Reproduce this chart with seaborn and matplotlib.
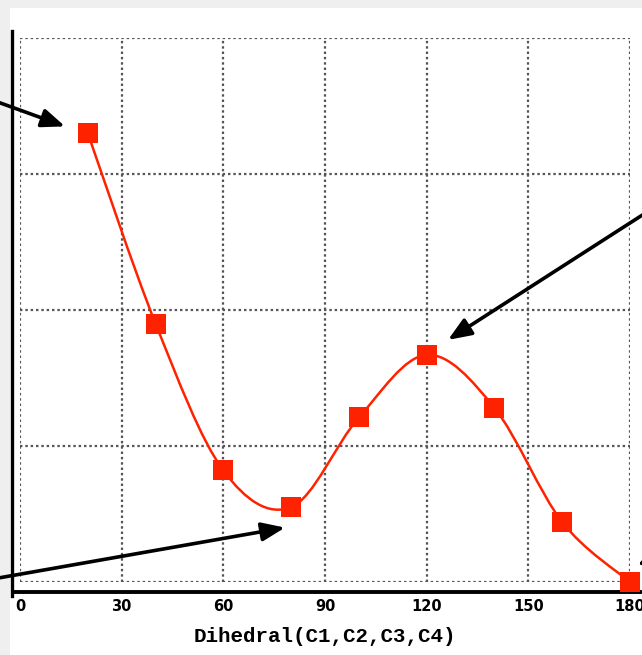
import numpy as np
import matplotlib
matplotlib.use("Agg")
import matplotlib.pyplot as plt
from matplotlib.path import Path
from matplotlib.patches import PathPatch, Rectangle
import seaborn as sns

# Scan data
dihedral = [20, 40, 60, 80, 100, 120, 140, 160, 180]
energy = [3.30, 1.90, 0.82, 0.55, 1.21, 1.67, 1.28, 0.44, 0.0]
x_ticks = [0, 30, 60, 90, 120, 150, 180]
y_grid = [0, 1, 2, 3, 4]
x_label = "Dihedral(C1,C2,C3,C4)"

RED = "#ff2200"

sns.set_style("white")

fig = plt.figure(figsize=(6.42, 6.55), dpi=100, facecolor="#efefef")
# white panel (image is a crop of a larger page)
fig.patches.append(Rectangle((10 / 642, 0), 1, (655 - 8) / 655,
                             transform=fig.transFigure, facecolor="white",
                             edgecolor="none", zorder=-10))

ax = fig.add_axes([20 / 642, (655 - 582) / 655, 610 / 642, 544 / 655])
ax.set_facecolor("none")

# smooth curve through the points (Catmull-Rom drawn as bezier path)
pts = np.column_stack([dihedral, energy])
verts = [tuple(pts[0])]
codes = [Path.MOVETO]
n = len(pts)
for i in range(n - 1):
    p0 = pts[max(i - 1, 0)]
    p1 = pts[i]
    p2 = pts[i + 1]
    p3 = pts[min(i + 2, n - 1)]
    c1 = p1 + (p2 - p0) / 6
    c2 = p2 - (p3 - p1) / 6
    verts += [tuple(c1), tuple(c2), tuple(p2)]
    codes += [Path.CURVE4] * 3
ax.add_patch(PathPatch(Path(verts, codes), facecolor="none", edgecolor=RED,
                       lw=1.8, zorder=4, clip_on=False))

sns.scatterplot(x=dihedral, y=energy, marker="s", s=14.5 ** 2, color=RED,
                edgecolor=RED, linewidth=0, zorder=5, clip_on=False, ax=ax)

ax.set_xlim(0, 180)
ax.set_ylim(0, 4)
ax.set_xticks(x_ticks)
ax.set_yticks(y_grid)
ax.grid(True, color="#555555", linestyle=(0, (1.1, 1.3)), linewidth=1.6)
ax.set_axisbelow(True)

for side in ["top", "right"]:
    ax.spines[side].set_visible(False)
for side in ["left", "bottom"]:
    ax.spines[side].set_color("black")
ax.spines["left"].set_position(("outward", 6))
ax.spines["bottom"].set_position(("outward", 7))
ax.spines["left"].set_linewidth(2.4)
ax.spines["bottom"].set_linewidth(2.8)
ax.spines["left"].set_bounds(-0.1, 4.05)
ax.spines["bottom"].set_bounds(-2, 186)

ax.tick_params(axis="x", direction="out", length=4, width=2.5, color="black",
               labelcolor="black", pad=1.5, labelsize=10.5)
ax.tick_params(axis="y", length=0, labelleft=False)
for lab in ax.get_xticklabels():
    lab.set_fontweight("bold")
    lab.set_family("DejaVu Sans")

ax.set_xlabel(x_label, fontsize=15, fontweight="bold", family="Liberation Mono",
              color="black", labelpad=9)

# annotation arrows; their labels sit outside the cropped view
arrow = dict(arrowstyle="-|>,head_length=0.7,head_width=0.28", color="black",
             lw=2.6, mutation_scale=20, shrinkA=0, shrinkB=0)
ax.annotate("", xy=(dihedral[0] - 6.7, energy[0] + 0.05), xycoords="data",
            xytext=(-30, 563), textcoords="figure pixels",
            arrowprops=arrow, annotation_clip=False)
ax.annotate("", xy=(dihedral[5] + 6.3, energy[5] + 0.11), xycoords="data",
            xytext=(700, 477), textcoords="figure pixels",
            arrowprops=arrow, annotation_clip=False)
ax.annotate("", xy=(dihedral[3] - 1.8, energy[3] - 0.15), xycoords="data",
            xytext=(-30, 72), textcoords="figure pixels",
            arrowprops=arrow, annotation_clip=False)
ax.annotate("", xy=(dihedral[8] + 2.2, energy[8] + 0.12), xycoords="data",
            xytext=(720, 135), textcoords="figure pixels",
            arrowprops=arrow, annotation_clip=False)

fig.savefig("out.png", dpi=100, facecolor=fig.get_facecolor())
